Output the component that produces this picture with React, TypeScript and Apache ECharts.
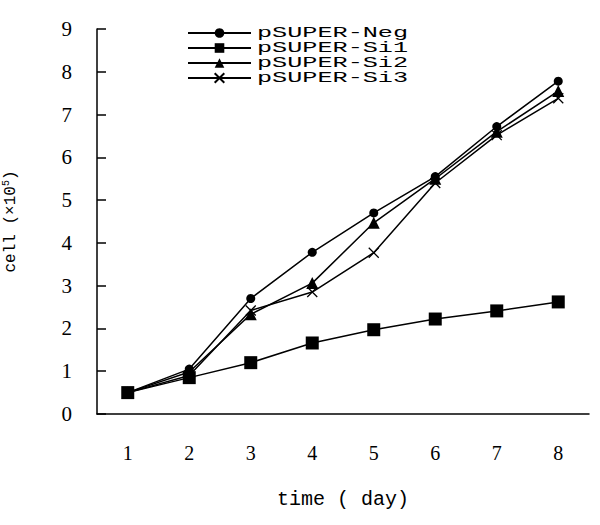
import React, { useEffect, useRef } from "react";
import * as echarts from "echarts";

const days = ["1", "2", "3", "4", "5", "6", "7", "8"];
const neg = [0.5, 1.05, 2.7, 3.78, 4.7, 5.55, 6.72, 7.78];
const si1 = [0.5, 0.85, 1.2, 1.66, 1.97, 2.22, 2.41, 2.62];
const si2 = [0.5, 0.98, 2.33, 3.06, 4.47, 5.5, 6.6, 7.55];
const si3 = [0.5, 0.9, 2.42, 2.85, 3.77, 5.4, 6.52, 7.38];
const seriesNames = ["pSUPER-Neg", "pSUPER-Si1", "pSUPER-Si2", "pSUPER-Si3"];

export default function App() {
  const ref = useRef<HTMLDivElement>(null);
  useEffect(() => {
    if (!ref.current) return;
    const chart = echarts.init(ref.current, null, { renderer: "svg" });
    const black = "#000";
    const mk = (name: string, data: number[], symbol: string, size: number, hollow = false) => ({
      name,
      type: "line",
      data,
      symbol,
      symbolSize: size,
      lineStyle: { color: black, width: 1.5 },
      itemStyle: hollow
        ? { color: "rgba(0,0,0,0)", borderColor: black, borderWidth: 1.3 }
        : { color: black, borderColor: black, borderWidth: 0 },
    });
    chart.setOption({
      animation: false,
      backgroundColor: "#fff",
      textStyle: { fontFamily: "Liberation Serif", color: black },
      legend: {
        orient: "vertical",
        left: 187,
        top: 25.5,
        padding: 0,
        itemWidth: 63,
        itemHeight: 12,
        itemGap: 0,
        data: seriesNames,
        formatter: () => "",
        textStyle: { fontSize: 15, lineHeight: 15, height: 15, padding: 0 },
      },
      graphic: seriesNames.map((n, i) => ({
        type: "text",
        x: 257,
        y: 33 + i * 15,
        scaleX: 1.68,
        silent: true,
        style: {
          text: n,
          fontFamily: "Liberation Mono",
          fontSize: 15,
          fill: black,
          verticalAlign: "middle",
          align: "left",
        },
      })),
      grid: { left: 97, right: 11, top: 29, bottom: 111, containLabel: false, outerBoundsMode: "none" },
      xAxis: {
        type: "category",
        data: days,
        boundaryGap: true,
        name: "time ( day)",
        nameLocation: "middle",
        nameGap: 75,
        nameTextStyle: { fontFamily: "Liberation Mono", fontSize: 20, color: black },
        axisLine: { lineStyle: { color: black, width: 1.5 } },
        axisTick: { inside: true, length: 6, lineStyle: { color: black, width: 1.5 } },
        axisLabel: { margin: 29, fontSize: 20, color: black, fontFamily: "Liberation Serif" },
        splitLine: { show: false },
      },
      yAxis: {
        type: "value",
        min: 0,
        max: 9,
        interval: 1,
        name: "cell (×10{sup|5})",
        nameLocation: "middle",
        nameRotate: 90,
        nameGap: 76,
        nameTextStyle: {
          fontFamily: "Liberation Mono",
          fontSize: 16,
          color: black,
          rich: {
            sup: { fontFamily: "Liberation Mono", fontSize: 10, color: black, padding: [0, 0, 10, 0] },
          },
        },
        axisLine: { show: true, lineStyle: { color: black, width: 1.5 } },
        axisTick: { show: true, inside: true, length: 9, lineStyle: { color: black, width: 1.5 } },
        axisLabel: { margin: 25, fontSize: 21, color: black, fontFamily: "Liberation Serif" },
        splitLine: { show: false },
      },
      series: [
        mk(seriesNames[0], neg, "circle", 9),
        mk(seriesNames[1], si1, "rect", 13),
        mk(seriesNames[2], si2, "triangle", 12),
        mk(seriesNames[3], si3, "path://M0,0L10,10M10,0L0,10", 10, true),
      ],
    });
    return () => chart.dispose();
  }, []);
  return <div ref={ref} style={{ width: 600, height: 525, position: "absolute", left: 0, top: 0 }} />;
}
